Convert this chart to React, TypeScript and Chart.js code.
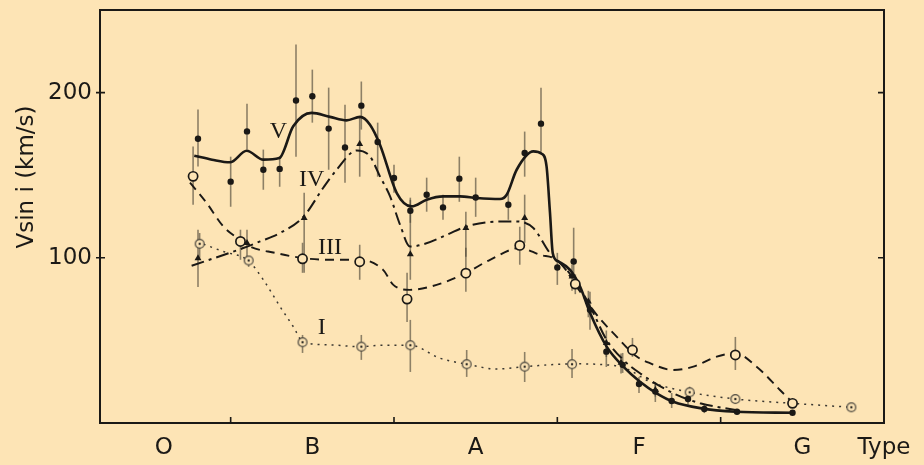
import { useEffect, useRef } from "react";
import { Chart, registerables } from "chart.js";

Chart.register(...registerables);

const PAPER = "#fde4b5";
const INK = "#1b1916";

// Spectral type on a running subtype scale: B0 = 10, A0 = 20, F0 = 30, G0 = 40
const TYPE_TICKS = [5.9, 15, 25, 35, 45, 50];
const TYPE_LABELS = ["O", "B", "A", "F", "G", "Type"];
const TYPE_BOUNDS = [10, 20, 30, 40];
const VSINI_TICKS = [100, 200];

// Class V (filled dots)
const V_TYPE = [8, 10, 11, 12, 13, 14, 15, 16, 17, 18, 19, 20, 21, 22, 23, 24, 25, 27, 28, 29, 30, 31, 32, 33, 34, 35, 36, 37, 38, 39, 41, 44.4];
const V_VSINI = [172.1, 146.1, 176.5, 153.3, 153.8, 195.2, 197.8, 178.2, 166.8, 192.1, 170.1, 148.3, 128.5, 138.2, 130.5, 147.9, 136.5, 132.1, 163.4, 181.2, 94.1, 97.8, 68.5, 43.2, 35.2, 23.6, 19.0, 13.3, 14.5, 8.5, 6.8, 6.2];
const V_LO = [155.2, 130.9, 165.5, 141.2, 143.0, 161.2, 181.8, 153.3, 145.5, 177.6, 149.1, 139.4, 121.2, 127.9, 123.0, 133.9, 124.8, 123.0, 149.1, 164.2, 83.6, 86.7, 56.4, 33.9, 30.3, 18.2, 12.7, 9.1, 11.0, 6.0, 6.8, 6.2];
const V_HI = [189.7, 161.2, 193.3, 165.5, 161.2, 229.1, 213.9, 203.0, 192.7, 206.7, 181.8, 156.4, 136.4, 148.5, 138.2, 161.2, 148.5, 139.4, 176.4, 203.0, 103.0, 118.2, 79.4, 50.3, 42.4, 27.9, 24.8, 18.2, 18.0, 11.0, 6.8, 6.2];

// Class IV (filled triangles)
const IV_TYPE = [8, 11, 14.5, 17.9, 21, 24.4, 28, 30.9, 31.9, 33, 33.9, 36];
const IV_VSINI = [99.8, 108.9, 124.1, 168.9, 102.1, 118.0, 124.1, 88.7, 73.5, 48.5, 36.4, 20.0];
const IV_LO = [82.4, 98.8, 90.9, 149.1, 86.7, 100.6, 109.1, 80.0, 64.0, 40.0, 30.0, 16.0];
const IV_HI = [117.0, 117.0, 139.4, 184.8, 135.1, 127.9, 138.2, 96.0, 80.0, 56.0, 42.0, 24.0];

// Class III (open circles)
const III_TYPE = [7.7, 10.6, 14.4, 17.9, 20.8, 24.4, 27.7, 31.1, 34.6, 40.9, 44.4];
const III_VSINI = [149.3, 109.9, 99.4, 97.6, 75.0, 90.7, 107.5, 84.1, 44.2, 41.2, 11.9];
const III_LO = [132.1, 98.8, 90.9, 86.7, 61.2, 79.4, 95.8, 78.0, 40.0, 32.1, 11.9];
const III_HI = [167.3, 117.0, 109.1, 107.9, 90.9, 106.1, 118.8, 90.0, 51.5, 52.1, 11.9];

// Class I (dotted circles)
const I_TYPE = [8.1, 11.1, 14.4, 18.0, 21.0, 24.45, 28.0, 30.9, 38.1, 40.9, 48.0];
const I_VSINI = [108.5, 98.4, 48.9, 46.2, 47.1, 35.6, 34.1, 35.6, 18.6, 14.5, 9.5];
const I_LO = [100.0, 94.5, 42.4, 38.2, 30.9, 27.9, 24.8, 27.3, 15.0, 14.5, 9.5];
const I_HI = [115.0, 100.6, 53.3, 53.3, 62.4, 44.2, 43.0, 44.8, 22.0, 14.5, 9.5];

// Mean curves drawn through each class
const V_CURVE_TYPE = [7.77, 8.86, 9.96, 10.98, 12.0, 12.98, 13.83, 14.96, 16.08, 17.1, 17.92, 18.53, 19.14, 20.17, 21.08, 22.0, 23.02, 24.04, 25.06, 26.49, 26.9, 27.51, 28.53, 29.04, 29.34, 29.55, 29.72, 30.06, 30.78, 31.39, 32.0, 33.02, 34.04, 35.06, 36.08, 37.1, 38.74, 40.92, 44.41];
const V_CURVE_VSINI = [161.8, 159.4, 157.8, 164.8, 159.4, 160.4, 179.6, 187.7, 185.3, 183.2, 185.3, 180.6, 168.5, 139.2, 131.1, 135.2, 137.2, 137.2, 136.2, 135.6, 138.2, 153.3, 164.4, 163.0, 155.3, 127.3, 102.8, 97.8, 92.7, 82.6, 66.7, 46.2, 34.1, 25.0, 18.0, 12.9, 9.0, 6.8, 6.2];

const IV_CURVE_TYPE = [7.61, 10.77, 11.8, 13.02, 14.45, 15.67, 16.49, 17.72, 18.53, 19.14, 19.76, 20.37, 20.98, 21.9, 23.23, 24.45, 26.49, 27.51, 28.53, 29.55, 30.37, 31.18, 32.0, 33.02, 34.04, 35.06, 37.1, 38.74, 40.92];
const IV_CURVE_VSINI = [95.2, 105.9, 109.9, 115.0, 124.8, 142.4, 153.3, 165.0, 161.4, 149.3, 137.2, 120.0, 106.8, 108.5, 113.9, 119.0, 122.0, 122.0, 118.0, 102.8, 94.7, 82.6, 70.5, 50.3, 38.2, 30.1, 18.0, 12.0, 7.9];

const III_CURVE_TYPE = [7.51, 8.53, 9.55, 10.57, 11.18, 12.71, 14.45, 16.08, 17.92, 19.33, 19.96, 20.98, 22.61, 24.39, 25.88, 27.71, 28.94, 29.96, 31.18, 32.18, 33.63, 34.86, 35.67, 37.1, 38.33, 39.76, 40.92, 42.2, 43.63, 44.41];
const III_CURVE_VSINI = [145.5, 133.2, 119.0, 110.9, 106.8, 103.0, 99.8, 98.8, 98.8, 92.7, 83.6, 80.6, 83.6, 90.7, 98.8, 105.9, 101.8, 98.8, 84.8, 68.5, 52.3, 40.2, 36.2, 32.1, 34.1, 40.2, 42.2, 34.1, 20.0, 12.3];

const I_CURVE_TYPE = [7.94, 9.55, 11.06, 12.0, 13.02, 13.83, 14.45, 16.08, 17.92, 19.14, 20.98, 22.82, 24.45, 26.29, 27.96, 30.94, 33.02, 34.14, 35.67, 38.12, 40.92, 44.41, 48.02];
const I_CURVE_VSINI = [109.7, 103.8, 98.4, 86.7, 70.5, 58.4, 48.9, 47.3, 46.2, 47.0, 47.1, 39.2, 35.6, 32.7, 34.1, 35.8, 35.2, 33.3, 25.0, 18.6, 14.5, 11.9, 9.5];

const zip = (xs: number[], ys: number[]) => xs.map((x, i) => ({ x, y: ys[i] }));

const SANS = "'DejaVu Sans', sans-serif";
const SERIF = "'Liberation Serif', 'DejaVu Serif', serif";

// Vertical error bars under the markers
const errorBars = {
  id: "errorBars",
  beforeDatasetsDraw(chart: any) {
    const { ctx } = chart;
    const x = chart.scales.x;
    const y = chart.scales.y;
    ctx.save();
    ctx.strokeStyle = "rgba(72,66,54,0.62)";
    ctx.lineWidth = 1.6;
    chart.data.datasets.forEach((ds: any) => {
      if (!ds.errLo) return;
      ds.data.forEach((p: any, i: number) => {
        const lo = ds.errLo[i];
        const hi = ds.errHi[i];
        if (hi - lo < 0.5) return;
        const px = x.getPixelForValue(p.x);
        ctx.beginPath();
        ctx.moveTo(px, y.getPixelForValue(lo));
        ctx.lineTo(px, y.getPixelForValue(hi));
        ctx.stroke();
      });
    });
    ctx.restore();
  },
};

// Frame, inward ticks, class labels on the curves and the axis title
const decorations = {
  id: "decorations",
  beforeDraw(chart: any) {
    const { ctx, width, height } = chart;
    ctx.save();
    ctx.fillStyle = PAPER;
    ctx.fillRect(0, 0, width, height);
    ctx.restore();
  },
  afterDraw(chart: any) {
    const { ctx, chartArea: a } = chart;
    const x = chart.scales.x;
    const y = chart.scales.y;
    ctx.save();
    ctx.strokeStyle = INK;
    ctx.lineWidth = 2;
    ctx.strokeRect(a.left, a.top, a.right - a.left, a.bottom - a.top);
    ctx.lineWidth = 1.6;
    ctx.beginPath();
    VSINI_TICKS.forEach((v) => {
      const py = y.getPixelForValue(v);
      ctx.moveTo(a.left - 4, py);
      ctx.lineTo(a.left + 5, py);
      ctx.moveTo(a.right - 6, py);
      ctx.lineTo(a.right, py);
    });
    TYPE_BOUNDS.forEach((t) => {
      const px = x.getPixelForValue(t);
      ctx.moveTo(px, a.bottom);
      ctx.lineTo(px, a.bottom - 6);
    });
    ctx.stroke();

    ctx.fillStyle = INK;
    ctx.textAlign = "center";
    ctx.textBaseline = "middle";
    ctx.font = `24px ${SERIF}`;
    const tags: [string, number, number][] = [
      ["V", 12.92, 176.5],
      ["IV", 14.96, 147.3],
      ["III", 16.08, 105.9],
      ["I", 15.57, 57.4],
    ];
    tags.forEach(([t, tx, ty]) => {
      ctx.fillText(t, x.getPixelForValue(tx), y.getPixelForValue(ty));
    });

    ctx.font = `23px ${SANS}`;
    ctx.translate(27, 177);
    ctx.rotate(-Math.PI / 2);
    ctx.fillText("Vsin i (km/s)", 0, 0);
    ctx.restore();
  },
};

function makeDottedRing(): HTMLCanvasElement {
  const c = document.createElement("canvas");
  c.width = 12;
  c.height = 12;
  const g = c.getContext("2d")!;
  g.fillStyle = PAPER;
  g.beginPath();
  g.arc(6, 6, 4.4, 0, Math.PI * 2);
  g.fill();
  g.strokeStyle = "#4a463e";
  g.lineWidth = 1.2;
  g.stroke();
  g.fillStyle = "#2a2824";
  g.beginPath();
  g.arc(6, 6, 1.2, 0, Math.PI * 2);
  g.fill();
  return c;
}

export default function App() {
  const ref = useRef<HTMLCanvasElement>(null);

  useEffect(() => {
    document.body.style.margin = "0";
    document.body.style.background = PAPER;
    if (!ref.current) return;
    const ring = makeDottedRing();

    const chart = new Chart(ref.current, {
      type: "line",
      data: {
        datasets: [
          {
            label: "V",
            data: zip(V_TYPE, V_VSINI),
            errLo: V_LO,
            errHi: V_HI,
            showLine: false,
            pointStyle: "circle",
            pointRadius: 3.2,
            pointBackgroundColor: INK,
            pointBorderColor: INK,
            pointBorderWidth: 0,
          } as any,
          {
            label: "IV",
            data: zip(IV_TYPE, IV_VSINI),
            errLo: IV_LO,
            errHi: IV_HI,
            showLine: false,
            pointStyle: "triangle",
            pointRadius: 4,
            pointBackgroundColor: INK,
            pointBorderColor: INK,
            pointBorderWidth: 0,
          } as any,
          {
            label: "III",
            data: zip(III_TYPE, III_VSINI),
            errLo: III_LO,
            errHi: III_HI,
            showLine: false,
            pointStyle: "circle",
            pointRadius: 4.6,
            pointBackgroundColor: PAPER,
            pointBorderColor: INK,
            pointBorderWidth: 1.7,
          } as any,
          {
            label: "I",
            data: zip(I_TYPE, I_VSINI),
            errLo: I_LO,
            errHi: I_HI,
            showLine: false,
            pointStyle: ring,
            pointRadius: 5,
          } as any,
          {
            label: "V curve",
            data: zip(V_CURVE_TYPE, V_CURVE_VSINI),
            borderColor: INK,
            borderWidth: 2.6,
            pointRadius: 0,
            cubicInterpolationMode: "monotone",
          },
          {
            label: "IV curve",
            data: zip(IV_CURVE_TYPE, IV_CURVE_VSINI),
            borderColor: INK,
            borderWidth: 2,
            borderDash: [13, 5, 3, 5],
            pointRadius: 0,
            cubicInterpolationMode: "monotone",
          },
          {
            label: "III curve",
            data: zip(III_CURVE_TYPE, III_CURVE_VSINI),
            borderColor: INK,
            borderWidth: 1.9,
            borderDash: [9, 6],
            pointRadius: 0,
            cubicInterpolationMode: "monotone",
          },
          {
            label: "I curve",
            data: zip(I_CURVE_TYPE, I_CURVE_VSINI),
            borderColor: "#3a3731",
            borderWidth: 1.5,
            borderDash: [2, 5],
            pointRadius: 0,
            cubicInterpolationMode: "monotone",
          },
        ],
      },
      options: {
        animation: false,
        responsive: false,
        devicePixelRatio: 1,
        layout: { padding: { top: 10, right: 40, left: 0, bottom: 0 } },
        plugins: {
          legend: { display: false },
          tooltip: { enabled: false },
        },
        scales: {
          x: {
            type: "linear",
            min: 2,
            max: 50,
            grid: { display: false },
            border: { display: false },
            afterFit: (s: any) => {
              s.height = 42;
              s.paddingLeft = 0;
              s.paddingRight = 0;
            },
            afterBuildTicks: (s: any) => {
              s.ticks = TYPE_TICKS.map((value) => ({ value }));
            },
            ticks: {
              autoSkip: false,
              maxRotation: 0,
              padding: 3,
              color: INK,
              font: { family: SANS, size: 23 },
              callback: (v: any) => {
                const i = TYPE_TICKS.indexOf(Number(v));
                return i >= 0 ? TYPE_LABELS[i] : "";
              },
            },
          },
          y: {
            type: "linear",
            min: 0,
            max: 250,
            grid: { display: false },
            border: { display: false },
            afterFit: (s: any) => {
              s.width = 100;
              s.paddingTop = 0;
              s.paddingBottom = 0;
            },
            afterBuildTicks: (s: any) => {
              s.ticks = VSINI_TICKS.map((value) => ({ value }));
            },
            ticks: {
              padding: 0,
              color: INK,
              font: { family: SANS, size: 23 },
            },
          },
        },
      },
      plugins: [errorBars, decorations],
    });

    return () => chart.destroy();
  }, []);

  return (
    <div style={{ width: 924, height: 465, background: PAPER }}>
      <canvas ref={ref} width={924} height={465} />
    </div>
  );
}
